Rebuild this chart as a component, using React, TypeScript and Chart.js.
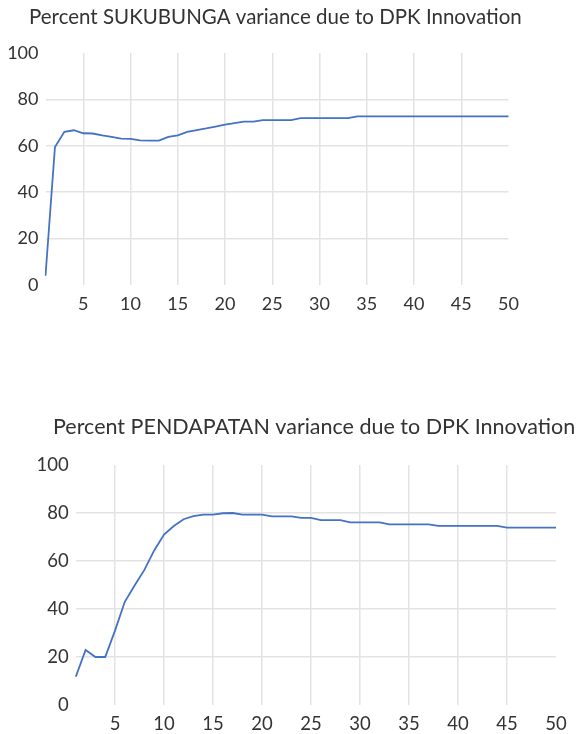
import React, { useEffect, useRef } from "react";
import { Chart, registerables } from "chart.js";

Chart.register(...registerables);

const PERIODS = [
  "1", "2", "3", "4", "5", "6", "7", "8", "9", "10",
  "11", "12", "13", "14", "15", "16", "17", "18", "19", "20",
  "21", "22", "23", "24", "25", "26", "27", "28", "29", "30",
  "31", "32", "33", "34", "35", "36", "37", "38", "39", "40",
  "41", "42", "43", "44", "45", "46", "47", "48", "49", "50",
];

const SUKUBUNGA = [
  4, 59.5, 66, 66.7, 65.4, 65.3, 64.5, 63.8, 63.1, 63,
  62.3, 62.2, 62.2, 63.8, 64.5, 66, 66.8, 67.5, 68.3, 69.1,
  69.8, 70.4, 70.4, 71.1, 71.1, 71.1, 71.1, 71.9, 71.9, 71.9,
  71.9, 71.9, 71.9, 72.7, 72.7, 72.7, 72.7, 72.7, 72.7, 72.7,
  72.7, 72.7, 72.7, 72.7, 72.7, 72.7, 72.7, 72.7, 72.7, 72.7,
];

const PENDAPATAN = [
  11.8, 22.9, 20, 20, 31, 43, 49.8, 56.3, 64.4, 71,
  74.6, 77.4, 78.7, 79.3, 79.3, 79.9, 80, 79.3, 79.3, 79.3,
  78.6, 78.6, 78.6, 78, 78, 77, 77, 77, 76.1, 76.1,
  76.1, 76.1, 75.3, 75.3, 75.3, 75.3, 75.3, 74.6, 74.6, 74.6,
  74.6, 74.6, 74.6, 74.6, 73.9, 73.9, 73.9, 73.9, 73.9, 73.9,
];

const Y_TICKS = [0, 20, 40, 60, 80, 100];
const X_LABEL_STEP = 5;

const TITLE_TOP = "Percent SUKUBUNGA variance due to DPK Innovation";
const TITLE_BOTTOM = "Percent PENDAPATAN variance due to DPK Innovation";

const FONT = "Lato, 'Open Sans', sans-serif";
const TEXT = "#333333";
const GRID = "#e3e3e3";
const LINE = "#4472C4";
const CLEAR = "rgba(0,0,0,0)";

type Panel = {
  title: string;
  data: number[];
  width: number;
  height: number;
  left: number;
  right: number;
  top: number;
  bottom: number;
  titleX: number;
  titleY: number;
  titleSize: number;
  tickSize: number;
};

function makeConfig(p: Panel): any {
  const titlePlugin = {
    id: "panelTitle",
    afterDraw(chart: any) {
      const c = chart.ctx;
      c.save();
      c.font = `${p.titleSize}px ${FONT}`;
      c.fillStyle = TEXT;
      c.textAlign = "left";
      c.textBaseline = "middle";
      c.fillText(p.title, p.titleX, p.titleY);
      c.restore();
    },
  };
  return {
    type: "line",
    data: {
      labels: PERIODS,
      datasets: [
        {
          data: p.data,
          borderColor: LINE,
          backgroundColor: LINE,
          borderWidth: 1.8,
          pointRadius: 0,
          tension: 0,
          fill: false,
        },
      ],
    },
    options: {
      responsive: false,
      maintainAspectRatio: false,
      animation: false,
      devicePixelRatio: 1,
      layout: {
        padding: { left: 0, right: p.width - p.right, top: p.top, bottom: 0 },
      },
      plugins: {
        legend: { display: false },
        tooltip: { enabled: false },
        title: { display: false },
      },
      scales: {
        x: {
          type: "category",
          offset: false,
          border: { display: false },
          grid: {
            drawTicks: false,
            lineWidth: 1.5,
            color: (ctx: any) => {
              const n = (ctx.index ?? 0) + 1;
              return n % X_LABEL_STEP === 0 && n < PERIODS.length ? GRID : CLEAR;
            },
          },
          ticks: {
            autoSkip: false,
            maxRotation: 0,
            minRotation: 0,
            padding: 8,
            color: TEXT,
            font: { family: FONT, size: p.tickSize },
            callback: (_v: any, i: number) =>
              (i + 1) % X_LABEL_STEP === 0 ? PERIODS[i] : "",
          },
          afterFit: (s: any) => {
            s.height = p.height - p.bottom;
          },
        },
        y: {
          min: 0,
          max: 100,
          border: { display: false },
          grid: {
            drawTicks: false,
            lineWidth: 1.5,
            color: (ctx: any) => {
              const v = ctx.tick ? ctx.tick.value : 0;
              return v === 0 || v === 100 ? CLEAR : GRID;
            },
          },
          ticks: {
            padding: 7,
            color: TEXT,
            font: { family: FONT, size: p.tickSize },
          },
          afterBuildTicks: (s: any) => {
            s.ticks = Y_TICKS.map((v) => ({ value: v }));
          },
          afterFit: (s: any) => {
            s.width = p.left;
          },
        },
      },
    },
    plugins: [titlePlugin],
  };
}

function ChartPanel({ panel, top }: { panel: Panel; top: number }) {
  const ref = useRef<HTMLCanvasElement | null>(null);
  useEffect(() => {
    if (!ref.current) return;
    const chart = new Chart(ref.current, makeConfig(panel));
    return () => chart.destroy();
  }, []);
  return (
    <canvas
      ref={ref}
      width={panel.width}
      height={panel.height}
      style={{
        position: "absolute",
        left: 0,
        top,
        width: panel.width,
        height: panel.height,
      }}
    />
  );
}

const TOP_PANEL: Panel = {
  title: TITLE_TOP,
  data: SUKUBUNGA,
  width: 580,
  height: 330,
  left: 45.5,
  right: 508.5,
  top: 53,
  bottom: 285,
  titleX: 29,
  titleY: 17,
  titleSize: 20.5,
  tickSize: 18,
};

const BOTTOM_PANEL: Panel = {
  title: TITLE_BOTTOM,
  data: PENDAPATAN,
  width: 580,
  height: 334,
  left: 75.8,
  right: 556,
  top: 65,
  bottom: 305,
  titleX: 53,
  titleY: 27,
  titleSize: 21.5,
  tickSize: 18.5,
};

export default function App() {
  return (
    <div
      style={{
        position: "absolute",
        left: 0,
        top: 0,
        width: 580,
        height: 734,
        background: "#ffffff",
        overflow: "hidden",
      }}
    >
      <ChartPanel panel={TOP_PANEL} top={0} />
      <ChartPanel panel={BOTTOM_PANEL} top={400} />
    </div>
  );
}
